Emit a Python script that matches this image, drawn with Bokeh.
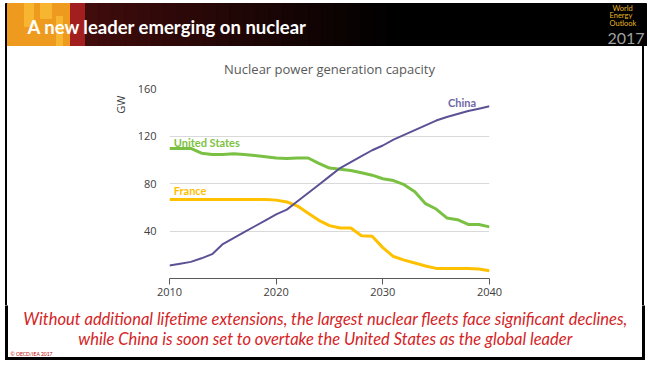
from bokeh.plotting import figure
from bokeh.models import Range1d, FixedTicker, Label, Title, Div
from bokeh.layouts import column, row
from bokeh.core.properties import value
from bokeh.embed import file_html
from bokeh.resources import INLINE

# ---------------- data ----------------
years = list(range(2010, 2041))
china = [11, 12.5, 14, 17, 20.5, 29, 34, 39, 44, 49, 54, 58, 65, 72, 79, 86,
         93, 98, 103, 108, 112, 117, 121, 125, 129, 133, 136, 138.5, 141, 143, 145]
united_states = [109.5, 109.5, 109.5, 105.5, 104.5, 104.5, 105, 104.5, 103.5, 102.5, 101.5,
                 101, 101.5, 101.5, 97, 93, 92, 91, 89, 87, 84, 82.5, 79, 73, 63, 58.5,
                 51, 49.5, 45.5, 45.5, 43.5]
france = [66.5, 66.5, 66.5, 66.5, 66.5, 66.5, 66.5, 66.5, 66.5, 66.5, 66, 64.5, 61, 55, 49,
          44.5, 42.5, 42.5, 36, 35.5, 26, 18.5, 15.5, 13, 10.5, 8.5, 8.5, 8.5, 8.5, 8, 6.5]
x_ticks = [2010, 2020, 2030, 2040]
y_ticks = [40, 80, 120, 160]

slide_title = "A new leader emerging on nuclear"
chart_title = "Nuclear power generation capacity"
message = ["Without additional lifetime extensions, the largest nuclear fleets face significant declines,",
           "while China is soon set to overtake the United States as the global leader"]

W, H = 650, 365
BANNER_H, MID_H = 46, 259
BOTTOM_H = H - BANNER_H - MID_H
SIDE = 8
BL, BR = 5, 644  # slide border x positions (outer)


def canvas_fig(w, h):
    f = figure(width=w, height=h, output_backend="svg", toolbar_location=None,
               x_range=Range1d(0, w), y_range=Range1d(h, 0),
               x_axis_type=None, y_axis_type=None, min_border=0)
    f.grid.visible = False
    f.outline_line_color = None
    f.background_fill_color = "white"
    f.border_fill_color = "white"
    return f


# ---------------- banner ----------------
banner = canvas_fig(W, BANNER_H)
TOP = 3
banner.quad(left=[BL], right=[BR + 2], top=[TOP], bottom=[BANNER_H], color="black")
banner.quad(left=[BL + 2], right=[70], top=[TOP], bottom=[BANNER_H], color="#EE9A1E")
banner.quad(left=[24, 40, 56], right=[33, 51, 62], top=[TOP, TOP, 16], bottom=[26, 18, BANNER_H],
            color="#F8B630")
banner.quad(left=[70], right=[85], top=[TOP], bottom=[BANNER_H], color="#A31F1F")
steps = 24
g0, g1 = 85, 400
c0 = (64, 12, 12)
lefts, rights, cols = [], [], []
for i in range(steps):
    t = i / (steps - 1)
    c = tuple(int(round(c0[k] * (1 - t))) for k in range(3))
    lefts.append(g0 + (g1 - g0) * i / steps)
    rights.append(g0 + (g1 - g0) * (i + 1) / steps + 0.6)
    cols.append("#%02x%02x%02x" % c)
banner.quad(left=lefts, right=rights, top=TOP, bottom=BANNER_H, color=cols)
banner.text(x=[27], y=[26], text=[slide_title], text_font=value("Lato"), text_font_style="bold",
            text_font_size="18.5px", text_color="white", text_baseline="middle")
banner.text(x=[612, 609, 609], y=[7.5, 15, 22.5], text=["World", "Energy", "Outlook"],
            text_font=value("Lato"), text_font_size="7.5px", text_color="#E6B422",
            text_baseline="middle")
banner.text(x=[607], y=[37.5], text=["2017"], text_font=value("Lato"), text_font_size="16px",
            text_color="#A0A0A0", text_baseline="middle")


# ---------------- chart ----------------
CW = W - 2 * SIDE
p = figure(width=CW, height=MID_H, output_backend="svg", toolbar_location=None,
           x_range=Range1d(2010, 2040), y_range=Range1d(0, 160),
           min_border_left=161, min_border_right=153, min_border_top=41, min_border_bottom=27)
p.background_fill_color = "white"
p.border_fill_color = "white"
p.outline_line_color = None

p.title.text = chart_title
p.title.align = "center"
p.title.text_font = "Open Sans"
p.title.text_font_size = "13px"
p.title.text_font_style = "normal"
p.title.text_color = "#595959"
p.title.standoff = 22

p.xaxis.ticker = FixedTicker(ticks=x_ticks)
p.xaxis.axis_line_color = "#595959"
p.xaxis.major_tick_line_color = "#595959"
p.xaxis.major_tick_out = 6
p.xaxis.major_tick_in = 0
p.xaxis.minor_tick_line_color = None
p.xaxis.major_label_text_font = "Open Sans"
p.xaxis.major_label_text_font_size = "11px"
p.xaxis.major_label_text_color = "#404040"
p.xaxis.major_label_standoff = 3

p.yaxis.ticker = FixedTicker(ticks=y_ticks)
p.yaxis.axis_line_color = None
p.yaxis.major_tick_line_color = None
p.yaxis.minor_tick_line_color = None
p.yaxis.major_label_text_font = "Open Sans"
p.yaxis.major_label_text_font_size = "11px"
p.yaxis.major_label_text_color = "#404040"
p.yaxis.major_label_standoff = 7

gw = Title(text="GW", align="right", text_font="Open Sans", text_font_size="11px",
           text_font_style="normal", text_color="#404040", standoff=14, offset=7)
p.add_layout(gw, "left")

p.xgrid.grid_line_color = None
p.ygrid.ticker = FixedTicker(ticks=y_ticks)
p.ygrid.grid_line_color = "#D9D9D9"

p.line(years, france, line_color="#FFC000", line_width=3)
p.line(years, united_states, line_color="#7AC143", line_width=3)
p.line(years, china, line_color="#5B5296", line_width=2)

p.add_layout(Label(x=2010.4, y=114.5, text="United States", text_font="Lato", text_font_style="bold",
                   text_font_size="11px", text_color="#7DC242", text_baseline="middle"))
p.add_layout(Label(x=2010.4, y=74, text="France", text_font="Lato", text_font_style="bold",
                   text_font_size="11px", text_color="#FFC000", text_baseline="middle"))
p.add_layout(Label(x=2036.1, y=148, text="China", text_font="Lato", text_font_style="bold",
                   text_font_size="11px", text_color="#6F67A6", text_baseline="middle"))


def strip(pos):
    grad = ("linear-gradient(to right, #fff 0px, #fff %dpx, #000 %dpx, #000 %dpx, #fff %dpx)"
            % (pos, pos, pos + 2, pos + 2))
    return Div(width=SIDE, height=MID_H, margin=(0, 0, 0, 0),
               styles={"background-image": grad, "padding": "0px", "margin": "0px"})


middle = row(strip(BL), p, strip(BR - 2 - (W - SIDE)))

# ---------------- bottom message ----------------
bottom = canvas_fig(W, BOTTOM_H)
BB = 359 - (BANNER_H + MID_H)
bottom.quad(left=[BL, BR - 2, BL], right=[BL + 2, BR, BR], top=[0, 0, BB - 2],
            bottom=[BB, BB, BB], color="black")
bottom.text(x=[325, 325], y=[318 - 305, 338 - 305], text=message, text_font=value("Lato"),
            text_font_style="italic", text_font_size="16.5px", text_color="#D42426",
            text_align="center", text_baseline="middle")
bottom.text(x=[10], y=[353 - 305], text=["\u00a9 OECD/IEA 2017"], text_font=value("Lato"),
            text_font_size="5px", text_color="#C00000", text_baseline="middle")

layout = column(banner, middle, bottom)
open("out.html", "w").write(file_html(layout, INLINE))
